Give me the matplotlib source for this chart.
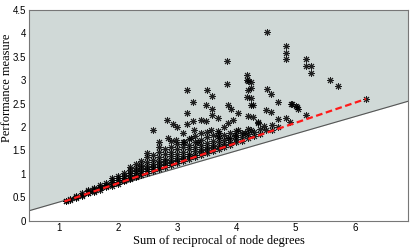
import numpy as np
import matplotlib
matplotlib.use('Agg')
import matplotlib.pyplot as plt

# scattered outliers
out_x = [4.51, 4.84, 4.84, 4.84, 3.85, 4.18, 4.18, 4.25, 3.85, 4.25, 3.17, 3.51,
         3.59, 4.51, 4.59, 4.18, 5.18, 5.18, 5.26, 5.26, 5.59, 5.71, 4.93, 5.01,
         5.04, 5.18, 4.84, 4.71, 4.94, 5.02, 4.50, 4.59, 4.71, 4.28, 4.28, 4.36,
         4.47, 4.50, 4.19, 4.19, 4.25, 3.27, 3.49, 3.86, 3.91, 4.03, 4.25, 3.17,
         3.59, 3.59, 2.83, 2.93, 3.17, 3.27, 3.41, 3.49, 3.69, 3.86, 3.94, 4.19,
         4.36, 2.59, 3.00, 3.10, 3.29, 3.41, 3.57, 3.69, 3.80, 4.03, 4.14, 4.25,
         2.70, 2.84, 2.98, 3.12, 3.24, 3.35, 3.69, 3.86, 3.97]
out_y = [4.02, 3.74, 3.59, 3.45, 3.40, 3.11, 3.00, 2.96, 2.91, 2.83, 2.78, 2.78,
         2.67, 2.81, 2.71, 2.63, 3.45, 3.31, 3.31, 3.16, 3.01, 2.87, 2.49, 2.44,
         2.39, 2.25, 2.20, 2.54, 2.50, 2.43, 2.37, 2.31, 2.17, 2.48, 2.21, 2.10,
         2.03, 1.94, 2.98, 2.78, 2.62, 2.54, 2.48, 2.47, 2.38, 2.30, 2.48, 2.30,
         2.38, 2.26, 2.16, 2.06, 2.06, 2.12, 2.14, 2.12, 2.19, 2.09, 2.16, 2.24,
         2.09, 1.93, 1.99, 1.87, 1.94, 1.87, 1.94, 1.91, 2.01, 1.94, 1.87, 1.94,
         1.67, 1.76, 1.73, 1.69, 1.76, 1.69, 1.80, 1.76, 1.80]

# dense band just above the red line, one list of y values per x column
band = {
    1.12: [0.41, 0.42],
    1.2: [0.45, 0.47],
    1.3: [0.49, 0.51, 0.53],
    1.4: [0.53, 0.55, 0.58],
    1.5: [0.58, 0.60, 0.63, 0.66],
    1.6: [0.62, 0.64, 0.67, 0.70],
    1.7: [0.66, 0.69, 0.72, 0.76],
    1.8: [0.71, 0.73, 0.77, 0.81],
    1.9: [0.75, 0.78, 0.82, 0.86, 0.90],
    2.0: [0.79, 0.82, 0.86, 0.91, 0.96],
    2.1: [0.84, 0.87, 0.91, 0.96, 1.02],
    2.2: [0.88, 0.92, 0.97, 1.02, 1.08, 1.15],
    2.3: [0.93, 0.96, 1.01, 1.07, 1.13, 1.22],
    2.4: [0.97, 1.01, 1.06, 1.12, 1.19, 1.28],
    2.5: [1.01, 1.05, 1.10, 1.17, 1.25, 1.35, 1.45],
    2.6: [1.06, 1.10, 1.15, 1.22, 1.30, 1.40],
    2.7: [1.10, 1.14, 1.20, 1.27, 1.36, 1.47, 1.58],
    2.8: [1.14, 1.19, 1.25, 1.32, 1.42, 1.53],
    2.9: [1.19, 1.23, 1.29, 1.37, 1.46, 1.58, 1.70],
    3.0: [1.23, 1.28, 1.34, 1.42, 1.52, 1.63],
    3.1: [1.27, 1.32, 1.39, 1.47, 1.57, 1.68],
    3.2: [1.32, 1.37, 1.43, 1.52, 1.62, 1.75],
    3.3: [1.36, 1.41, 1.48, 1.57, 1.68, 1.80],
    3.4: [1.40, 1.46, 1.53, 1.62, 1.73],
    3.5: [1.45, 1.50, 1.57, 1.66, 1.78, 1.90],
    3.6: [1.49, 1.55, 1.62, 1.71, 1.83],
    3.7: [1.53, 1.59, 1.67, 1.76, 1.88],
    3.8: [1.58, 1.64, 1.72, 1.82],
    3.9: [1.62, 1.69, 1.77, 1.87],
    4.0: [1.67, 1.74, 1.82, 1.92],
    4.1: [1.71, 1.79, 1.88],
    4.2: [1.76, 1.84, 1.95],
    4.3: [1.80, 1.90],
    4.4: [1.84, 1.96],
    4.6: [1.94, 2.05],
    4.7: [2.00],
    4.9: [2.10],
    6.19: [2.60],
}

# red dashed lower-bound line and the gray boundary line
red_x = [1.1, 6.19]
red_y = [0.41, 2.60]
bound_x = [0.5, 6.9]
bound_y = [0.21, 2.55]

x_ticks = [1, 2, 3, 4, 5, 6]
y_ticks = [0, 0.5, 1, 1.5, 2, 2.5, 3, 3.5, 4, 4.5]

bx = [k for k, v in band.items() for _ in v]
by = [yy for v in band.values() for yy in v]
pts_x = np.array(out_x + bx)
pts_y = np.array(out_y + by)

fig = plt.figure(figsize=(4.19, 2.49), dpi=100)
ax = fig.add_axes([0.069, 0.114, 0.905, 0.846])

ax.fill_between(bound_x, bound_y, [4.5, 4.5], color='#d0d9d7', zorder=0, lw=0)
ax.plot(bound_x, bound_y, color='#555555', lw=0.8, zorder=1)

ax.plot(pts_x, pts_y, ls='none', marker=(8, 2, 0), ms=5, mew=0.7,
        color='black', alpha=0.85, zorder=2)
ax.plot(red_x, red_y, color='#ff1a1a', lw=1.6, dashes=(3, 1.6), zorder=3)

ax.set_xlim(0.5, 6.9)
ax.set_ylim(0, 4.5)
ax.set_xticks(x_ticks)
ax.set_yticks(y_ticks)
ax.set_yticklabels(['0', '0.5', '1', '1.5', '2', '2.5', '3', '3.5', '4', '4.5'])
ax.tick_params(direction='in', length=0, labelsize=7, pad=2)
for lab in ax.get_xticklabels() + ax.get_yticklabels():
    lab.set_family('Liberation Sans')
for s in ax.spines.values():
    s.set_color('#777777')
    s.set_linewidth(0.8)

ax.set_xlabel('Sum of reciprocal of node degrees', family='Liberation Serif',
              fontsize=9, labelpad=1)
ax.set_ylabel('Performance measure', family='Liberation Serif', fontsize=9)
ax.yaxis.set_label_coords(-0.043, 0.63)

fig.savefig('out.png', dpi=100)
